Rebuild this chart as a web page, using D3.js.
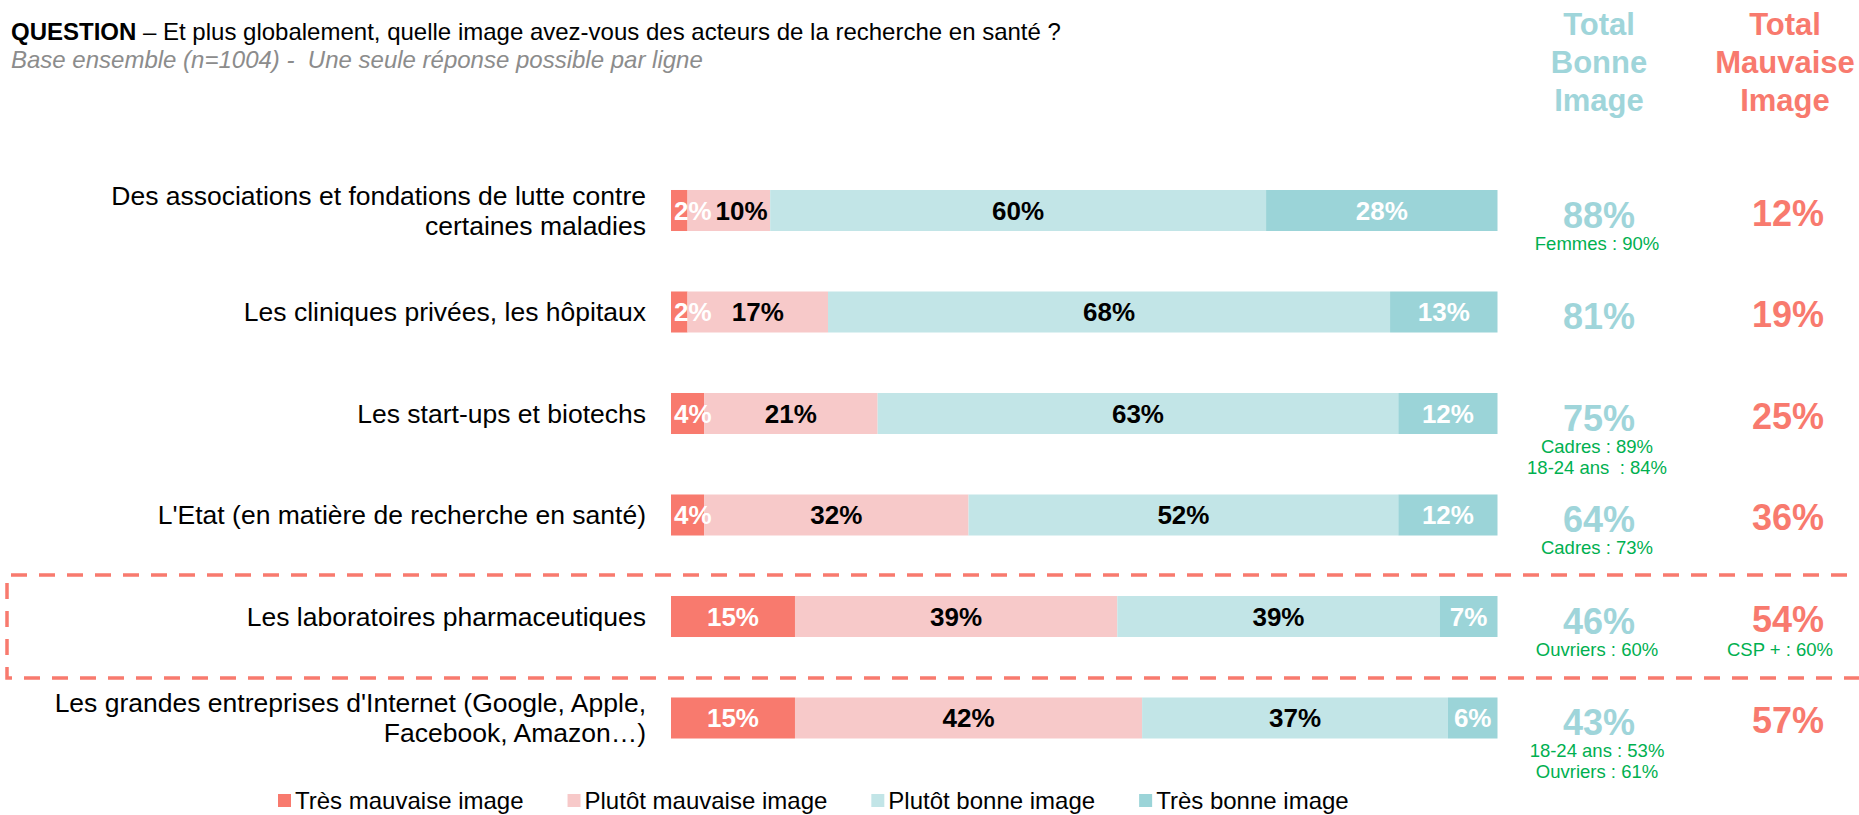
<!DOCTYPE html>
<html><head><meta charset="utf-8">
<script src="https://cdn.jsdelivr.net/npm/d3@7"></script>
<style>body{margin:0;background:#fff} svg{display:block;font-family:Arial,"Liberation Sans",sans-serif}</style>
</head><body><svg id="c" width="1859" height="815"></svg>
<script>
// ---- data ----
const categories = [
  ["Des associations et fondations de lutte contre", "certaines maladies"],
  ["Les cliniques privées, les hôpitaux"],
  ["Les start-ups et biotechs"],
  ["L'Etat (en matière de recherche en santé)"],
  ["Les laboratoires pharmaceutiques"],
  ["Les grandes entreprises d'Internet (Google, Apple,", "Facebook, Amazon…)"]
];
const seriesNames = ["Très mauvaise image", "Plutôt mauvaise image", "Plutôt bonne image", "Très bonne image"];
const tresMauvaise   = [2, 2, 4, 4, 15, 15];
const plutotMauvaise = [10, 17, 21, 32, 39, 42];
const plutotBonne    = [60, 68, 63, 52, 39, 37];
const tresBonne      = [28, 13, 12, 12, 7, 6];
const totalBonne     = [88, 81, 75, 64, 46, 43];
const totalMauvaise  = [12, 19, 25, 36, 54, 57];
const notesBonne = [["Femmes : 90%"], [], ["Cadres : 89%", "18-24 ans  : 84%"], ["Cadres : 73%"], ["Ouvriers : 60%"], ["18-24 ans : 53%", "Ouvriers : 61%"]];
const notesMauvaise = [[], [], [], [], ["CSP + : 60%"], []];
const highlightedRow = 4;
const titleBold = "QUESTION";
const titleRest = " – Et plus globalement, quelle image avez-vous des acteurs de la recherche en santé ?";
const subtitle = "Base ensemble (n=1004) -  Une seule réponse possible par ligne";

// ---- style ----
const colors = ["#F87A6E", "#F7C9C9", "#C2E5E7", "#9BD4D8"];
const labelColors = ["#fff", "#000", "#000", "#fff"];
const cBonne = "#9FD5DA", cMauvaise = "#F87A6E", cNote = "#00B050";

const svg = d3.select("#c");
const series = [tresMauvaise, plutotMauvaise, plutotBonne, tresBonne];
const rows = categories.map((c, i) => {
  const o = {i};
  seriesNames.forEach((s, k) => o[s] = series[k][i]);
  return o;
});
const stacked = d3.stack().keys(seriesNames)(rows);

const x = d3.scaleLinear().domain([0, 100]).range([671, 1497.5]);
const y = d3.scaleBand().domain(d3.range(categories.length)).range([159.75, 768.75]).paddingInner(0.596).paddingOuter(0.298);
const yc = i => y(i) + y.bandwidth() / 2;

// title
const t = svg.append("text").attr("x", 11).attr("y", 40).style("font-size", "24px").attr("fill", "#000");
t.append("tspan").attr("font-weight", "bold").text(titleBold);
t.append("tspan").text(titleRest);
svg.append("text").attr("x", 11).attr("y", 68).style("font-size", "24px").style("font-style", "italic")
  .style("white-space", "pre").attr("xml:space", "preserve").attr("fill", "#8C8C8C").text(subtitle);

// headers
const headers = [{lines: ["Total", "Bonne", "Image"], x: 1599, c: cBonne}, {lines: ["Total", "Mauvaise", "Image"], x: 1785, c: cMauvaise}];
headers.forEach(h => {
  h.lines.forEach((l, j) => svg.append("text").attr("x", h.x).attr("y", 35 + j * 38).attr("text-anchor", "middle")
    .style("font-size", "31px").attr("font-weight", "bold").attr("fill", h.c).text(l));
});

// highlight box around the highlighted row
const hb0 = y(highlightedRow) - 21, hb1 = y(highlightedRow) + y.bandwidth() + 41;
svg.append("path")
  .attr("d", `M1875,${hb0} H7 V${hb1} H1875`)
  .attr("fill", "none").attr("stroke", cMauvaise).attr("stroke-width", 3.5).attr("stroke-dasharray", "16,12");

// category labels
categories.forEach((lines, i) => {
  lines.forEach((l, j) => svg.append("text").attr("x", 646)
    .attr("y", yc(i) + (j - (lines.length - 1) / 2) * 30).attr("dy", "0.35em")
    .attr("text-anchor", "end").style("font-size", "26.5px").attr("fill", "#000").text(l));
});

// bars
const g = svg.append("g");
stacked.forEach((s, k) => {
  g.selectAll(null).data(s).join("rect")
    .attr("x", d => x(d[0])).attr("width", d => x(d[1]) - x(d[0]))
    .attr("y", (d, i) => y(i)).attr("height", y.bandwidth())
    .attr("fill", colors[k]);
});
// segment labels (left to right per row, avoiding overlaps)
const lastRight = categories.map(() => -Infinity);
stacked.forEach((s, k) => {
  s.forEach((d, i) => {
    const v = d[1] - d[0];
    const x0 = x(d[0]), w = x(d[1]) - x0;
    const txt = svg.append("text").attr("y", yc(i)).attr("dy", "0.35em").attr("text-anchor", "middle")
      .style("font-size", "26px").attr("font-weight", "bold").attr("fill", labelColors[k]).text(v + "%");
    const tw = txt.node().getComputedTextLength();
    let cx = x0 + w / 2;
    if (tw > w) cx = x0 + tw / 2 + 3;
    if (cx - tw / 2 < lastRight[i] + 4) cx = lastRight[i] + 4 + tw / 2;
    lastRight[i] = cx + tw / 2;
    txt.attr("x", cx);
  });
});

// totals
categories.forEach((c, i) => {
  const b = yc(i) + 17, m = yc(i) + 15;
  svg.append("text").attr("x", 1599).attr("y", b).attr("text-anchor", "middle").style("font-size", "36px")
    .attr("font-weight", "bold").attr("fill", cBonne).text(totalBonne[i] + "%");
  svg.append("text").attr("x", 1788).attr("y", m).attr("text-anchor", "middle").style("font-size", "36px")
    .attr("font-weight", "bold").attr("fill", cMauvaise).text(totalMauvaise[i] + "%");
  notesBonne[i].forEach((n, j) => svg.append("text").attr("x", 1597).attr("y", b + 22 + j * 21).attr("text-anchor", "middle")
    .style("font-size", "18.5px").style("white-space", "pre").attr("xml:space", "preserve").attr("fill", cNote).text(n));
  notesMauvaise[i].forEach((n, j) => svg.append("text").attr("x", 1780).attr("y", m + 24 + j * 21).attr("text-anchor", "middle")
    .style("font-size", "18.5px").attr("fill", cNote).text(n));
});

// legend
let lx = 278;
seriesNames.forEach((s, k) => {
  svg.append("rect").attr("x", lx).attr("y", 794).attr("width", 13).attr("height", 13).attr("fill", colors[k]);
  const tt = svg.append("text").attr("x", lx + 17).attr("y", 801).attr("dy", "0.35em").style("font-size", "24px").attr("fill", "#000").text(s);
  lx += 17 + tt.node().getComputedTextLength() + 44;
});
</script></body></html>
